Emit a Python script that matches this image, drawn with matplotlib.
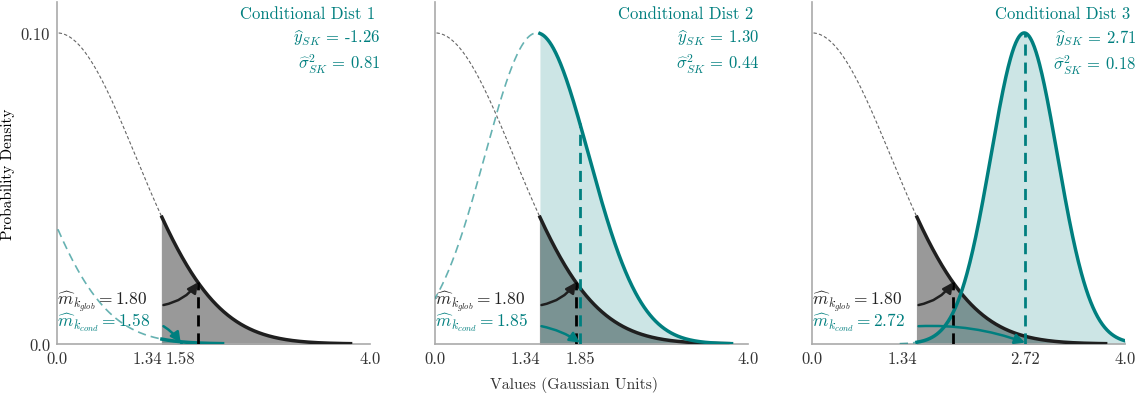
import numpy as np
import matplotlib
matplotlib.use("Agg")
import matplotlib.pyplot as plt

plt.rcParams['font.family'] = 'serif'
plt.rcParams['font.serif'] = ['cmr10', 'DejaVu Serif']
plt.rcParams['mathtext.fontset'] = 'cm'
plt.rcParams['axes.unicode_minus'] = False
plt.rcParams['axes.formatter.use_mathtext'] = True

# ---- data ----
titles = ["Conditional Dist 1", "Conditional Dist 2", "Conditional Dist 3"]
cond_means = [-1.26, 1.30, 2.71]
cond_vars = [0.81, 0.44, 0.18]
cond_mean_labels = ["-1.26", "1.30", "2.71"]
cond_var_labels = ["0.81", "0.44", "0.18"]
m_cond = [1.58, 1.85, 2.72]
m_glob = 1.80
threshold = 1.34
glob_mean = 0.0
glob_var = 1.0
peak = 0.10
n_sd = 3.75

TEAL = '#007f7f'
BLACK = '#1f1f1f'

def dens(x, mu, var):
    return peak * np.exp(-(x - mu) ** 2 / (2 * var))

fig = plt.figure(figsize=(11.47, 4.02), dpi=100)
lefts = [0.0497, 0.3793, 0.708]
axes = []
for i in range(3):
    ax = fig.add_axes([lefts[i], 0.142, 0.273, 0.851])
    axes.append(ax)
    mu, var = cond_means[i], cond_vars[i]
    sd = np.sqrt(var)
    gsd = np.sqrt(glob_var)

    xg_lo = np.linspace(glob_mean - n_sd * gsd, threshold, 400)
    xg_hi = np.linspace(threshold, glob_mean + n_sd * gsd, 400)
    xc_lo = np.linspace(mu - n_sd * sd, threshold, 400)
    xc_hi = np.linspace(threshold, mu + n_sd * sd, 400)

    ax.fill_between(xg_hi, 0, dens(xg_hi, glob_mean, glob_var), color='#999999', lw=0.8,
                    edgecolor='#999999', zorder=1)
    ax.fill_between(xc_hi, 0, dens(xc_hi, mu, var), color=TEAL, alpha=0.2, lw=0, zorder=2)

    ax.plot(xg_lo, dens(xg_lo, glob_mean, glob_var), ls=(0, (3, 2)), color='#666666', lw=0.8, zorder=3)
    ax.plot(xc_lo, dens(xc_lo, mu, var), ls=(0, (5, 3)), color=TEAL, alpha=0.6, lw=1.2, zorder=3)
    ax.plot(xg_hi, dens(xg_hi, glob_mean, glob_var), color=BLACK, lw=2.5, zorder=4)
    ax.plot(xc_hi, dens(xc_hi, mu, var), color=TEAL, lw=2.5, zorder=5)

    ax.plot([m_glob, m_glob], [0, dens(m_glob, glob_mean, glob_var)], color='black',
            ls=(0, (4, 2.5)), lw=2, zorder=6)
    ax.plot([m_cond[i], m_cond[i]], [0, dens(m_cond[i], mu, var)], color=TEAL,
            ls=(0, (4, 2.5)), lw=2, zorder=6)

    ax.text(0.0, 0.0138, r"$\widehat{m}_{k_{glob}} = 1.80$", color='#222222', fontsize=12.5,
            ha='left', va='center', zorder=7)
    ax.text(0.0, 0.0072, r"$\widehat{m}_{k_{cond}} = %s$" % f"{m_cond[i]:.2f}", color=TEAL,
            fontsize=12.5, ha='left', va='center', zorder=7)
    ax.annotate('', xy=(m_glob, dens(m_glob, glob_mean, glob_var)), xytext=(1.36, 0.0125),
                arrowprops=dict(arrowstyle='-|>,head_length=0.6,head_width=0.3', color=BLACK, lw=1.8,
                                connectionstyle='arc3,rad=0.2', shrinkA=0, shrinkB=0), zorder=8)
    ax.annotate('', xy=(m_cond[i], 0.0004), xytext=(1.36, 0.0057),
                arrowprops=dict(arrowstyle='-|>,head_length=0.6,head_width=0.3', color=TEAL, lw=1.8,
                                connectionstyle='arc3,rad=-0.1', shrinkA=0, shrinkB=0), zorder=8)

    ax.text(1.015, 0.99, titles[i], transform=ax.transAxes, ha='right', va='top', color=TEAL, fontsize=12)
    ax.text(1.035, 0.925, r"$\widehat{y}_{SK}$ = " + cond_mean_labels[i] + "\n" +
            r"$\widehat{\sigma}^2_{SK}$ = " + cond_var_labels[i],
            transform=ax.transAxes, ha='right', va='top', color=TEAL, fontsize=12,
            multialignment='right', linespacing=1.3)

    ax.set_xlim(0, 4.0)
    ax.set_ylim(0, 0.11)
    ax.set_xticks([0.0, threshold, m_cond[i], 4.0])
    ax.set_xticklabels(["0.0", "1.34", f"{m_cond[i]:.2f}", "4.0"], fontsize=12)
    labs = ax.get_xticklabels()
    labs[1].set_horizontalalignment('right')
    labs[2].set_color(TEAL)
    ax.set_yticks([0.0, 0.10])
    if i == 0:
        ax.set_yticklabels(["0.0", "0.10"], fontsize=12)
        ax.set_ylabel("Probability Density", fontsize=11)
        ax.yaxis.set_label_coords(-0.135, 0.5)
    else:
        ax.set_yticklabels([])
    ax.tick_params(length=0, pad=5, colors='#333333')
    for s in ['top', 'right']:
        ax.spines[s].set_visible(False)
    for s in ['left', 'bottom']:
        ax.spines[s].set_color('#aaaaaa')
        ax.spines[s].set_linewidth(1.2)

fig.text(0.5, 0.042, "Values (Gaussian Units)", ha='center', va='center', fontsize=11.3, color='#333333')
fig.savefig("out.png", dpi=100)
